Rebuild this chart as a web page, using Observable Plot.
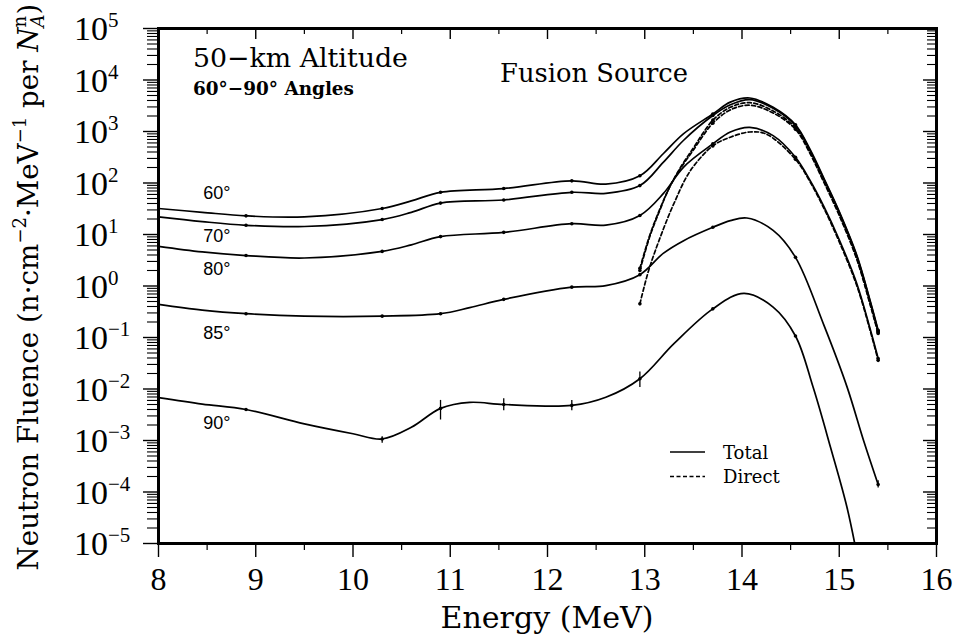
<!DOCTYPE html>
<html>
<head>
<meta charset="utf-8">
<script src="https://cdn.jsdelivr.net/npm/d3@7"></script>
<script src="https://cdn.jsdelivr.net/npm/@observablehq/plot@0.6"></script>
<style>
html, body { margin: 0; padding: 0; background: #fff; }
#chart { width: 956px; height: 641px; }
</style>
</head>
<body>
<div id="chart"></div>
<script>
// ---------- Data ----------
// Energies (MeV) at which the total curves for 60°, 70°, 80° were read
const totalE = [8, 8.45, 8.9, 9.5, 10.3, 10.6, 10.9, 11.55, 12.25, 12.6, 12.95, 13.19, 13.4, 13.7, 13.88, 14.08, 14.32, 14.55, 14.7, 14.84, 15.0, 15.18, 15.32, 15.4];
const total60 = [32, 27, 23, 22, 32, 45, 66, 78, 110, 95, 138, 370, 910, 2190, 3720, 4470, 2950, 1350, 447, 126, 28, 4.0, 0.50, 0.138];
const total70 = [22, 17.8, 15.1, 14.3, 19.5, 26.9, 40.7, 46.8, 66, 63, 89, 251, 676, 2040, 3310, 4170, 2820, 1290, 427, 120, 26.9, 3.8, 0.48, 0.132];
const total80 = [5.9, 4.6, 3.9, 3.5, 4.7, 6.3, 9.1, 11, 16.2, 15.2, 23.4, 62, 204, 575, 977, 1200, 832, 316, 112, 35.5, 7.9, 1.12, 0.141, 0.039];

const total85E = [8, 8.45, 8.9, 9.5, 10.3, 10.9, 11.2, 11.55, 12.25, 12.6, 12.95, 13.19, 13.4, 13.7, 13.88, 14.05, 14.32, 14.55, 14.84, 15.08, 15.25, 15.4];
const total85 = [0.44, 0.34, 0.29, 0.26, 0.26, 0.29, 0.38, 0.55, 0.95, 1.02, 1.66, 4.3, 7.6, 13.8, 18.6, 20.9, 12.0, 3.6, 0.178, 0.011, 0.001, 1.4e-4];

const total90E = [8, 8.45, 8.9, 9.5, 10.0, 10.3, 10.6, 10.9, 11.2, 11.55, 12.25, 12.6, 12.95, 13.3, 13.7, 14.02, 14.32, 14.55, 14.73, 14.91, 15.08, 15.2];
const total90 = [0.0068, 0.0051, 0.0040, 0.0021, 0.00135, 0.00107, 0.0018, 0.0042, 0.0055, 0.0050, 0.0048, 0.0069, 0.0158, 0.076, 0.36, 0.72, 0.39, 0.107, 0.011, 7.4e-4, 5.0e-5, 4e-6];

// Direct (uncollided) components
const directE = [12.95, 13.05, 13.15, 13.25, 13.37, 13.5, 13.6, 13.7, 13.88, 14.08, 14.32, 14.55, 14.7, 14.84, 15.0, 15.18, 15.32, 15.4];
const direct60 = [2.0, 8.9, 28, 79, 204, 479, 933, 1660, 2950, 3630, 2510, 1170, 398, 112, 25, 3.5, 0.44, 0.126];
const direct70 = [2.2, 9.5, 29.5, 79, 195, 437, 832, 1450, 2630, 3240, 2290, 1100, 372, 105, 23.4, 3.3, 0.42, 0.12];
const direct80E = [12.95, 13.04, 13.16, 13.3, 13.47, 13.7, 13.88, 14.08, 14.25, 14.55, 14.7, 14.84, 15.0, 15.18, 15.32, 15.4];
const direct80 = [0.45, 2.0, 8.9, 40, 174, 525, 776, 977, 891, 288, 105, 33, 7.2, 1.02, 0.132, 0.036];

// Energies where computed points are marked on the curves
const markerE = [8.9, 10.3, 10.9, 11.55, 12.25, 12.95, 13.7, 14.55, 15.4];

// Error bars
const err90E = [10.3, 10.9, 11.55, 12.25, 12.95];
const err90Lo = [0.00088, 0.0025, 0.0038, 0.0038, 0.0107];
const err90Hi = [0.00118, 0.0060, 0.0065, 0.0060, 0.0214];
const err85E = [15.4];
const err85Lo = [1.2e-4];
const err85Hi = [1.65e-4];

// Curve labels
const angleLabels = ["60°", "70°", "80°", "85°", "90°"];
const angleLabelE = 8.46;
const angleLabelV = [49, 7.1, 1.6, 0.094, 0.0017];

// Axis ticks
const xMajor = [8, 9, 10, 11, 12, 13, 14, 15, 16];
const xMinor = [8.5, 9.5, 10.5, 11.5, 12.5, 13.5, 14.5, 15.5];
const yExponents = [-5, -4, -3, -2, -1, 0, 1, 2, 3, 4, 5];
const yMinorMantissas = [2, 3, 4, 5, 6, 7, 8, 9];

const legendLabels = ["Total", "Direct"];

// ---------- Font detection (pick an installed serif face) ----------
function detectFont(candidates, fallback) {
  const ns = "http://www.w3.org/2000/svg";
  const probe = document.createElementNS(ns, "svg");
  probe.setAttribute("width", 10); probe.setAttribute("height", 10);
  probe.style.position = "absolute"; probe.style.left = "-9999px";
  const t = document.createElementNS(ns, "text");
  t.setAttribute("font-size", "40");
  t.textContent = "Energy (MeV) Wgmli 0123456789";
  probe.appendChild(t);
  document.body.appendChild(probe);
  let found = null;
  for (const fam of candidates) {
    t.style.fontFamily = `'${fam}', monospace`;
    const w1 = t.getComputedTextLength();
    t.style.fontFamily = `'${fam}', sans-serif`;
    const w2 = t.getComputedTextLength();
    t.style.fontFamily = `'${fam}', cursive`;
    const w3 = t.getComputedTextLength();
    if (Math.abs(w1 - w2) < 0.01 && Math.abs(w2 - w3) < 0.01) { found = fam; break; }
  }
  document.body.removeChild(probe);
  return found ? `'${found}', ${fallback}` : fallback;
}
const serifList = ["Liberation Serif", "DejaVu Serif", "Noto Serif", "Tinos", "FreeSerif", "Nimbus Roman", "Nimbus Roman No9 L", "Times New Roman", "Times", "Georgia", "Bitstream Vera Serif", "DejaVu Serif Condensed"];
const textSerifList = ["DejaVu Serif", "Noto Serif", "Bitstream Vera Serif", "Liberation Serif", "Tinos", "FreeSerif", "Nimbus Roman", "Times New Roman", "Times", "Georgia", "DejaVu Serif Condensed"];
const numFont = detectFont(serifList, "serif");
const textFont = detectFont(textSerifList, "serif");
const sansFont = "'Liberation Sans', Arial, sans-serif";

// ---------- Build tables ----------
const series = [
  {name: "60 total", kind: "Total", E: totalE, v: total60},
  {name: "70 total", kind: "Total", E: totalE, v: total70},
  {name: "80 total", kind: "Total", E: totalE, v: total80},
  {name: "85 total", kind: "Total", E: total85E, v: total85},
  {name: "90 total", kind: "Total", E: total90E, v: total90},
  {name: "60 direct", kind: "Direct", E: directE, v: direct60},
  {name: "70 direct", kind: "Direct", E: directE, v: direct70},
  {name: "80 direct", kind: "Direct", E: direct80E, v: direct80}
];
const rows = series.flatMap(s => s.E.map((E, i) => ({series: s.name, kind: s.kind, E, v: s.v[i]})));
const totalRows = rows.filter(r => r.kind === "Total");
const directRows = rows.filter(r => r.kind === "Direct");
const markerRows = rows.filter(r => markerE.includes(r.E));
const errRows = [
  ...err90E.map((E, i) => ({E, lo: err90Lo[i], hi: err90Hi[i]})),
  ...err85E.map((E, i) => ({E, lo: err85Lo[i], hi: err85Hi[i]}))
];
const labelRows = angleLabels.map((t, i) => ({t, E: angleLabelE, v: angleLabelV[i]}));

const yMajor = yExponents.map(e => Math.pow(10, e));
const yMinor = yExponents.slice(0, -1).flatMap(e => yMinorMantissas.map(k => k * Math.pow(10, e)));

const noText = () => "";

const plot = Plot.plot({
  width: 956,
  height: 641,
  marginLeft: 158,
  marginRight: 20,
  marginTop: 28,
  marginBottom: 98,
  style: {background: "white", color: "black"},
  x: {domain: [8, 16]},
  y: {type: "log", domain: [1e-5, 1e5]},
  marks: [
    Plot.line(totalRows, {x: "E", y: "v", z: "series", curve: "catmull-rom", stroke: "black", strokeWidth: 1.7, clip: true}),
    Plot.line(directRows, {x: "E", y: "v", z: "series", curve: "catmull-rom", stroke: "black", strokeWidth: 1.7, strokeDasharray: "4,2.5", clip: true}),
    Plot.dot(markerRows, {x: "E", y: "v", r: 1.8, fill: "black", stroke: null, clip: true}),
    Plot.ruleX(errRows, {x: "E", y1: "lo", y2: "hi", stroke: "black", strokeWidth: 1.3}),
    Plot.text(labelRows, {x: "E", y: "v", text: "t", textAnchor: "start", lineAnchor: "bottom", fontSize: 18, fontFamily: sansFont, fill: "black"}),
    // bottom axis (outward)
    Plot.axisX(xMajor, {anchor: "bottom", tickSize: 14, tickPadding: 10, strokeWidth: 1.4, fontSize: 32, fontFamily: numFont, label: null, tickFormat: d => String(d)}),
    Plot.axisX(xMinor, {anchor: "bottom", tickSize: 7, strokeWidth: 1.2, label: null, tickFormat: noText}),
    // top axis (inward)
    Plot.axisX(xMajor, {anchor: "top", tickSize: 10, dy: 10, strokeWidth: 1.4, label: null, tickFormat: noText}),
    Plot.axisX(xMinor, {anchor: "top", tickSize: 5, dy: 5, strokeWidth: 1.2, label: null, tickFormat: noText}),
    // left axis (outward)
    Plot.axisY(yMajor, {anchor: "left", tickSize: 15, strokeWidth: 1.4, label: null, tickFormat: noText}),
    Plot.axisY(yMinor, {anchor: "left", tickSize: 11, strokeWidth: 1.1, label: null, tickFormat: noText}),
    // right axis (inward)
    Plot.axisY(yMajor, {anchor: "right", tickSize: 14, dx: -14, strokeWidth: 1.4, label: null, tickFormat: noText}),
    Plot.axisY(yMinor, {anchor: "right", tickSize: 10, dx: -10, strokeWidth: 1.1, label: null, tickFormat: noText}),
    Plot.frame({stroke: "black", strokeWidth: 3})
  ]
});

document.getElementById("chart").appendChild(plot);

// ---------- Annotations (text with super/subscripts) ----------
const svg = d3.select(plot);
const yScale = plot.scale("y");

function fit(sel, target) {
  const w = sel.node().getBBox().width;
  const fs = parseFloat(sel.attr("font-size"));
  if (w > 0) sel.attr("font-size", (fs * target / w).toFixed(2));
}

// y tick labels: 10^n
yExponents.forEach(e => {
  const py = yScale.apply(Math.pow(10, e));
  const g = svg.append("g").attr("fill", "black");
  g.append("text")
    .attr("x", 108).attr("y", py + 12)
    .attr("text-anchor", "end")
    .style("font-family", numFont).attr("font-size", 34)
    .text("10");
  g.append("text")
    .attr("x", 108).attr("y", py - 1)
    .attr("text-anchor", "start")
    .style("font-family", numFont).attr("font-size", 21)
    .text(e < 0 ? "\u2212" + Math.abs(e) : String(e));
});

// y-axis title
const yt = svg.append("text")
  .attr("transform", "translate(38,287) rotate(-90)")
  .attr("text-anchor", "middle")
  .style("font-family", textFont)
  .attr("font-size", 28)
  .attr("fill", "black");
yt.append("tspan").text("Neutron Fluence (n\u00B7cm");
yt.append("tspan").attr("font-size", "0.65em").attr("dy", "-0.65em").text("\u22122");
yt.append("tspan").attr("dy", "0.4225em").text("\u00B7MeV");
yt.append("tspan").attr("font-size", "0.65em").attr("dy", "-0.65em").text("\u22121");
yt.append("tspan").attr("dy", "0.4225em").text(" per ");
yt.append("tspan").attr("font-style", "italic").text("N");
yt.append("tspan").attr("font-size", "0.65em").attr("font-style", "italic").attr("dy", "0.35em").text("A");
yt.append("tspan").attr("font-size", "0.65em").attr("dx", "-0.72em").attr("dy", "-1.0em").text("n");
yt.append("tspan").attr("dx", "0.05em").attr("dy", "0.4225em").text(")");
fit(yt, 567);

// x-axis title
const xt = svg.append("text")
  .attr("x", 547).attr("y", 628)
  .attr("text-anchor", "middle")
  .style("font-family", textFont).attr("font-size", 28)
  .attr("fill", "black")
  .text("Energy (MeV)");
fit(xt, 213);

// In-plot titles
const t1 = svg.append("text").attr("x", 193).attr("y", 67)
  .attr("text-anchor", "start")
  .style("font-family", textFont).attr("font-size", 24).attr("fill", "black")
  .text("50\u2212km Altitude");
fit(t1, 215);
const t2 = svg.append("text").attr("x", 193).attr("y", 95)
  .attr("text-anchor", "start")
  .style("font-family", textFont).attr("font-weight", "bold").attr("font-size", 16).attr("fill", "black")
  .text("60\u00B0\u221290\u00B0 Angles");
fit(t2, 161);
const t3 = svg.append("text").attr("x", 500).attr("y", 82)
  .attr("text-anchor", "start")
  .style("font-family", textFont).attr("font-size", 22).attr("fill", "black")
  .text("Fusion Source");
fit(t3, 188);

// Legend
const legendDash = [null, "4,2.5"];
legendLabels.forEach((lab, i) => {
  const ly = 452 + i * 24.5;
  svg.append("line").attr("x1", 670).attr("x2", 705).attr("y1", ly).attr("y2", ly)
    .attr("stroke", "black").attr("stroke-width", 1.5)
    .attr("stroke-dasharray", legendDash[i]);
  svg.append("text").attr("x", 723).attr("y", ly + 6.5)
    .attr("text-anchor", "start")
    .style("font-family", textFont).attr("font-size", 18).attr("fill", "black")
    .text(lab);
});
</script>
</body>
</html>
